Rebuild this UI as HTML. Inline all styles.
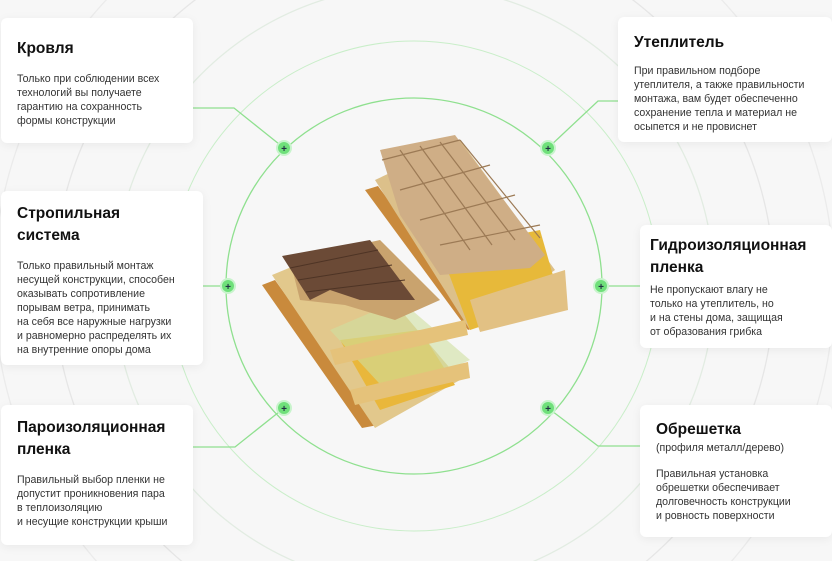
<!DOCTYPE html>
<html style="margin:0;width:832px;height:561px;overflow:hidden"><head><meta charset="utf-8"><style>
body{margin:0;width:832px;height:561px;position:relative;overflow:hidden;font-family:"Liberation Sans","DejaVu Sans",sans-serif;color:#222;
background:
radial-gradient(circle at 414px 286px, transparent 299.3px, #e2ece2 299.8px, #e2ece2 300.6px, transparent 301.1px),
radial-gradient(circle at 414px 286px, transparent 359.3px, #e6e6e6 359.8px, #e6e6e6 360.6px, transparent 361.1px),
radial-gradient(circle at 414px 286px, transparent 419.3px, #ebebeb 419.8px, #ebebeb 420.6px, transparent 421.1px),
#f7f7f7}
.c{position:absolute;background:#fff;border-radius:6px;box-shadow:0 2px 10px rgba(0,0,0,.06);box-sizing:border-box;padding:20px 16px}
.c h3{margin:0 0 12px;font-size:15.5px;font-weight:bold;line-height:22px;color:#111}
.c p{margin:0;font-size:10.6px;line-height:14px;color:#333}
svg{position:absolute;left:0;top:0;display:block}
</style></head><body>
<svg width="832" height="561" viewBox="0 0 832 561">
<g fill="none">
<circle cx="414" cy="286" r="245" stroke="#c9eec9" stroke-width="1"/>
<circle cx="414" cy="286" r="188" stroke="#8fe08f" stroke-width="1.3"/>
<g stroke="#8fe08f" stroke-width="1.3">
<polyline points="193,108 234,108 284,148"/>
<polyline points="618,101 598,101 548,148"/>
<polyline points="203,286 228,286"/>
<polyline points="601,286 640,286"/>
<polyline points="193,447 235,447 284,408"/>
<polyline points="548,408 598,446 640,446"/>
</g>
</g>
<g>
<polygon points="365,190 378,186 480,325 468,330" fill="#c98a3c"/>
<polygon points="375,180 460,140 555,270 470,330" fill="#dcc08a"/>
<polygon points="440,250 540,230 560,300 470,330" fill="#e7b93a"/>
<polygon points="470,300 565,270 568,310 480,332" fill="#e2c184"/>
<polygon points="380,150 455,135 545,255 530,268 440,275 400,215" fill="#cfae86"/>
<g stroke="#9c7a55" stroke-width="1.2" fill="none">
<path d="M382,160 L460,140"/><path d="M400,190 L490,165"/><path d="M420,220 L515,195"/><path d="M440,245 L540,225"/>
<path d="M400,150 L470,250"/><path d="M420,146 L492,245"/><path d="M440,142 L515,240"/><path d="M460,140 L540,238"/>
</g>
</g>
<g>
<polygon points="262,285 275,280 378,425 362,428" fill="#c98a3c"/>
<polygon points="272,275 345,245 460,380 375,428" fill="#e2c88c"/>
<polygon points="340,340 420,330 455,385 380,410" fill="#e9b73b"/>
<polygon points="330,330 400,300 470,360 390,395" fill="#cfe0a0" opacity=".6"/>
<polygon points="300,300 290,260 380,240 440,300 395,320 345,305" fill="#c9a36e"/>
<polygon points="282,256 370,240 415,300 360,300 330,290 310,300" fill="#6b4a36"/>
<g stroke="#4e3425" stroke-width="1" fill="none"><path d="M290,268 L378,250"/><path d="M298,280 L392,265"/><path d="M306,292 L405,280"/></g>
<polygon points="330,350 465,320 468,335 335,365" fill="#e5c27a"/>
<polygon points="350,390 468,362 470,378 355,405" fill="#e5c27a"/>
</g>
<g>
<g fill="#6fe07a" stroke="#c8f4cc" stroke-width="2">
<circle cx="284" cy="148" r="7"/><circle cx="548" cy="148" r="7"/>
<circle cx="228" cy="286" r="7"/><circle cx="601" cy="286" r="7"/>
<circle cx="284" cy="408" r="7"/><circle cx="548" cy="408" r="7"/>
</g>
<g font-size="10" font-weight="bold" fill="#234" text-anchor="middle" font-family="Liberation Sans,sans-serif">
<text x="284" y="152">+</text><text x="548" y="152">+</text><text x="228" y="290">+</text><text x="601" y="290">+</text><text x="284" y="412">+</text><text x="548" y="412">+</text>
</g>
</g>
</svg>
<div class="c" style="left:1px;top:18px;width:192px;height:125px;padding-top:20px"><h3>Кровля</h3><p>Только при соблюдении всех<br>технологий вы получаете<br>гарантию на сохранность<br>формы конструкции</p></div>
<div class="c" style="left:1px;top:191px;width:202px;height:174px;padding-top:12px"><h3>Стропильная<br>система</h3><p>Только правильный монтаж<br>несущей конструкции, способен<br>оказывать сопротивление<br>порывам ветра, принимать<br>на себя все наружные нагрузки<br>и равномерно распределять их<br>на внутренние опоры дома</p></div>
<div class="c" style="left:1px;top:405px;width:192px;height:140px;padding-top:12px"><h3>Пароизоляционная<br>пленка</h3><p>Правильный выбор пленки не<br>допустит проникновения пара<br>в теплоизоляцию<br>и несущие конструкции крыши</p></div>
<div class="c" style="left:618px;top:17px;width:214px;height:125px;padding:15px 16px"><h3 style="margin-bottom:10px">Утеплитель</h3><p>При правильном подборе<br>утеплителя, а также правильности<br>монтажа, вам будет обеспеченно<br>сохранение тепла и материал не<br>осыпется и не провиснет</p></div>
<div class="c" style="left:640px;top:225px;width:192px;height:123px;padding:10px 10px"><h3 style="margin-bottom:4px">Гидроизоляционная<br>пленка</h3><p>Не пропускают влагу не<br>только на утеплитель, но<br>и на стены дома, защищая<br>от образования грибка</p></div>
<div class="c" style="left:640px;top:405px;width:192px;height:132px;padding:14px 16px"><h3 style="margin-bottom:0">Обрешетка</h3><p style="margin-bottom:12px">(профиля металл/дерево)</p><p>Правильная установка<br>обрешетки обеспечивает<br>долговечность конструкции<br>и ровность поверхности</p></div>
</body></html>
